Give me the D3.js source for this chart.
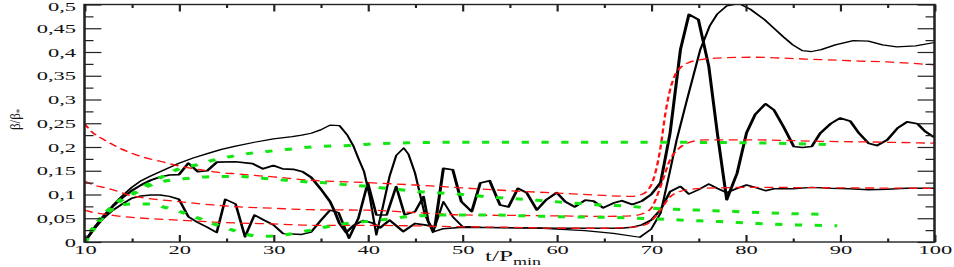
<!DOCTYPE html>
<meta charset="utf-8">
<script src="https://cdn.jsdelivr.net/npm/d3@7"></script>
<style>
  body { margin: 0; background: #fff; }
  svg { display: block; }
  .tick text { font-family: "Liberation Serif", "Times New Roman", serif; font-size: 12.5px; fill: #111; }
  .tick line { stroke: #222; }
  .domain { display: none; }
</style>
<body>
<svg id="chart"></svg>
<script>
// data: [t/Pmin, beta/beta*]
var black1 = [[10,0],[11,0.03],[12,0.055],[13,0.077],[14,0.097],[15,0.115],[16,0.129],[17,0.139],[18,0.148],[19,0.157],[20,0.166],[21.5,0.177],[23,0.186],[24.5,0.195],[26,0.202],[28,0.21],[30,0.217],[32,0.222],[33,0.225],[34,0.229],[35,0.236],[36,0.246],[37,0.245],[37.8,0.226],[38.5,0.201],[39,0.176],[39.6,0.148],[40.2,0.096],[40.9,0.015],[41.6,0.075],[42.3,0.138],[43,0.182],[43.8,0.198],[44.3,0.185],[45,0.145],[46,0.06],[46.9,0.02],[48,0.085],[49,0.053],[50,0.033],[52,0.031],[55,0.03],[58,0.029],[60,0.027],[63,0.024],[66,0.018],[68.8,0.01],[70,0.027],[71,0.061],[72,0.15],[72.7,0.215],[73.8,0.3],[75.2,0.405],[76.2,0.455],[77,0.48],[78,0.497],[79.3,0.502],[80.5,0.49],[82,0.468],[83,0.45],[84,0.432],[85,0.415],[86,0.403],[87,0.401],[88,0.405],[89.5,0.415],[91.4,0.424],[93,0.423],[94.5,0.415],[96,0.411],[98,0.413],[100,0.42]];

var black2 = [[10,0],[11,0.028],[12,0.053],[13,0.075],[14,0.093],[15,0.108],[16,0.12],[17,0.13],[18,0.137],[19,0.141],[20,0.142],[21,0.166],[22,0.148],[23,0.15],[24,0.168],[26,0.169],[27.8,0.165],[28.9,0.154],[30,0.161],[31,0.154],[32.1,0.153],[33.1,0.148],[34,0.136],[35,0.112],[36,0.085],[36.5,0.064],[37,0.039],[37.7,0.02],[38.5,0.035],[39.5,0.045],[40.5,0.04],[41.3,0.03],[42.3,0.046],[43.75,0.022],[45,0.039],[46,0.036],[47.1,0.032],[48,0.155],[49,0.152],[49.9,0.085],[51,0.064],[51.9,0.124],[52.9,0.129],[54,0.078],[54.9,0.074],[55.9,0.113],[56.8,0.104],[57.9,0.0675],[58.9,0.089],[60,0.104],[60.9,0.085],[61.9,0.074],[63,0.088],[63.9,0.086],[64.9,0.072],[66,0.082],[66.9,0.087],[68,0.079],[69,0.086],[70,0.1],[71,0.125],[72,0.229],[73.1,0.405],[74,0.479],[75,0.468],[76.1,0.37],[77,0.23],[78,0.089],[79.1,0.145],[80.1,0.23],[81,0.268],[82.1,0.291],[83,0.278],[84,0.243],[85.1,0.201],[86,0.199],[87,0.201],[87.9,0.229],[89,0.249],[90,0.261],[91.1,0.254],[92,0.229],[93,0.208],[93.9,0.203],[95,0.215],[96.1,0.24],[97.1,0.253],[98.2,0.249],[99,0.233],[100,0.22]];

var black3 = [[10,0],[11,0.027],[12,0.05],[13,0.067],[14,0.08],[15,0.092],[16,0.097],[17,0.099],[18,0.099],[19,0.096],[20,0.09],[21,0.053],[22,0.041],[22.9,0.032],[24,0.02],[24.9,0.09],[26,0.08],[27,0.011],[28,0.057],[29,0.046],[30,0.036],[31,0.018],[32,0.017],[33,0.016],[34,0.021],[35,0.045],[36,0.067],[36.9,0.062],[38,0.008],[39,0.05],[40,0.125],[40.9,0.057],[42,0.057],[43,0.117],[43.9,0.057],[45,0.064],[45.9,0.096],[46.4,0.043],[47,0.022],[48,0.028],[50,0.031],[55,0.03],[60,0.029],[65,0.029],[66.7,0.029],[68,0.031],[69,0.036],[70,0.046],[71,0.068],[72,0.106],[73.1,0.117],[74,0.101],[75,0.11],[76.1,0.122],[77,0.113],[78,0.104],[79.1,0.113],[80.1,0.12],[81,0.115],[82.1,0.108],[83,0.112],[85,0.112],[87,0.115],[89,0.113],[91,0.112],[93,0.11],[95,0.111],[97,0.113],[100,0.113]];

var red1 = [[10,0.249],[11,0.228],[12,0.216],[13,0.205],[14,0.195],[15,0.187],[16.5,0.177],[18,0.17],[20,0.16],[22,0.153],[24,0.147],[26.4,0.143],[30,0.137],[34,0.13],[40,0.125],[45,0.12],[50,0.114],[55,0.108],[60,0.103],[65,0.098],[67.8,0.096],[69,0.1],[70,0.12],[70.5,0.15],[71,0.2],[71.5,0.27],[72,0.32],[72.5,0.35],[73,0.365],[74,0.378],[75.6,0.385],[78,0.388],[80.8,0.389],[84,0.387],[87.9,0.384],[92,0.381],[95,0.379],[100,0.373]];

var red2 = [[10,0.128],[11,0.12],[12,0.115],[13,0.11],[14.5,0.1],[16.5,0.092],[18,0.089],[20,0.085],[23.6,0.078],[26.4,0.074],[30,0.071],[34,0.068],[40,0.067],[45,0.062],[50,0.057],[55,0.056],[60,0.055],[65,0.054],[67.8,0.055],[69,0.059],[70,0.071],[71,0.117],[72,0.173],[73,0.198],[73.8,0.208],[75.6,0.215],[80.8,0.215],[87.9,0.212],[95,0.21],[100,0.208]];

var red3 = [[10,0.067],[11,0.062],[12,0.059],[13,0.056],[15,0.052],[17,0.049],[20,0.046],[23.6,0.042],[26.4,0.04],[30,0.038],[35,0.035],[40,0.035],[45,0.034],[50,0.032],[55,0.031],[60,0.029],[65,0.029],[67.8,0.031],[69,0.034],[70,0.044],[71,0.068],[72,0.095],[73,0.106],[73.8,0.11],[75.6,0.113],[80.8,0.115],[90,0.114],[100,0.113]];

var green1 = [[10,0],[11,0.03],[12,0.055],[13,0.075],[14,0.09],[15,0.1],[16,0.113],[17,0.125],[18,0.135],[19,0.145],[20,0.154],[22,0.163],[24,0.174],[26,0.182],[28,0.188],[30,0.192],[32,0.196],[34,0.2],[36,0.202],[38,0.203],[40,0.206],[45,0.209],[50,0.21],[60,0.21],[70,0.21],[80,0.209],[89,0.205]];

var green2 = [[10,0],[11,0.03],[12,0.055],[13,0.075],[14,0.09],[15,0.1],[16,0.11],[17,0.12],[18,0.126],[19,0.13],[20,0.132],[22,0.136],[24,0.138],[26,0.138],[28,0.136],[30,0.132],[32,0.129],[34,0.126],[36,0.124],[38,0.12],[40,0.117],[42,0.113],[45.5,0.106],[49.4,0.101],[53.3,0.094],[57.2,0.089],[61.1,0.083],[64.6,0.078],[67.8,0.075],[70.2,0.071],[72.5,0.069],[76.6,0.066],[80.5,0.063],[84.4,0.06],[89,0.058]];

var green3 = [[10,0],[11,0.03],[12,0.055],[13,0.07],[14,0.078],[15,0.08],[17,0.08],[18.5,0.073],[20,0.065],[21.3,0.055],[22.7,0.046],[24,0.036],[25.4,0.027],[26.8,0.018],[28.5,0.012],[30.3,0.013],[32.1,0.018],[33.7,0.024],[35.4,0.031],[37,0.037],[38.8,0.041],[40.6,0.045],[42.5,0.049],[44.1,0.053],[48.3,0.057],[52.6,0.057],[56.8,0.055],[61,0.053],[65.3,0.052],[69.9,0.049],[73.4,0.046],[77.3,0.043],[81.2,0.039],[85.4,0.036],[89.7,0.034]];

var xMajor = [10, 20, 30, 40, 50, 60, 70, 80, 90, 100];
var xMinor = [15, 25, 35, 45, 55, 65, 75, 85, 95];
var xTickLabels = ["10", "20", "30", "40", "50", "60", "70", "80", "90", "100"];
var yMajor = [0, 0.05, 0.1, 0.15, 0.2, 0.25, 0.3, 0.35, 0.4, 0.45, 0.5];
var yMinor = [0.025, 0.075, 0.125, 0.175, 0.225, 0.275, 0.325, 0.375, 0.425, 0.475];
var yTickLabels = ["0", "0,05", "0,1", "0,15", "0,2", "0,25", "0,3", "0,35", "0,4", "0,45", "0,5"];

// the original picture is stretched sideways, so draw narrow and let the viewBox widen it
var W = 954, H = 267, SX = 1.8;
var svg = d3.select("#chart")
    .attr("width", W).attr("height", H)
    .attr("viewBox", "0 0 " + (W / SX) + " " + H)
    .attr("preserveAspectRatio", "none");

var x = d3.scaleLinear().domain([10, 100]).range([84.5 / SX, 934.5 / SX]);
var y = d3.scaleLinear().domain([0, 0.5]).range([242, 4.5]);

svg.append("clipPath").attr("id", "plotclip")
    .append("rect")
    .attr("x", x(10)).attr("y", y(0.5))
    .attr("width", x(100) - x(10)).attr("height", y(0) - y(0.5));

var line = d3.line().x(function(d) { return x(d[0]); }).y(function(d) { return y(d[1]); });
var smooth = d3.line().curve(d3.curveMonotoneX).x(function(d) { return x(d[0]); }).y(function(d) { return y(d[1]); });

var plot = svg.append("g").attr("clip-path", "url(#plotclip)");

// black solid curves
[[black1, 1.25], [black2, 1.7], [black3, 1.5]].forEach(function(s) {
    plot.append("path").datum(s[0])
        .attr("d", line)
        .attr("fill", "none")
        .attr("stroke", "#000")
        .attr("stroke-width", s[1])
        .attr("stroke-linejoin", "round");
});

// red dashed curves
[red1, red2, red3].forEach(function(s) {
    plot.append("path").datum(s)
        .attr("d", smooth)
        .attr("fill", "none")
        .attr("stroke", "#ff1010")
        .attr("stroke-width", 1.3)
        .attr("stroke-dasharray", "5,3");
});

// green dotted curves
[green1, green2, green3].forEach(function(s) {
    plot.append("path").datum(s)
        .attr("d", smooth)
        .attr("fill", "none")
        .attr("stroke", "#14e614")
        .attr("stroke-width", 3)
        .attr("stroke-dasharray", "4,7");
});

// frame
svg.append("rect")
    .attr("x", x(10)).attr("y", y(0.5))
    .attr("width", x(100) - x(10)).attr("height", y(0) - y(0.5))
    .attr("fill", "none").attr("stroke", "#222").attr("stroke-width", 1.4);

// axes, ticks point inwards
var fmtX = function(d) { return xTickLabels[xMajor.indexOf(d)]; };
var fmtY = function(d) { return yTickLabels[yMajor.indexOf(d)]; };

svg.append("g").attr("transform", "translate(0," + y(0) + ")")
    .call(d3.axisBottom(x).tickValues(xMajor).tickSize(-7).tickPadding(3).tickFormat(fmtX));
svg.append("g").attr("transform", "translate(0," + y(0) + ")")
    .call(d3.axisBottom(x).tickValues(xMinor).tickSize(-3.5).tickFormat(""));
svg.append("g").attr("transform", "translate(0," + y(0.5) + ")")
    .call(d3.axisTop(x).tickValues(xMajor).tickSize(-7).tickFormat(""));
svg.append("g").attr("transform", "translate(0," + y(0.5) + ")")
    .call(d3.axisTop(x).tickValues(xMinor).tickSize(-3.5).tickFormat(""));

var yAxisG = svg.append("g").attr("transform", "translate(" + x(10) + ",0)")
    .call(d3.axisLeft(y).tickValues(yMajor).tickSize(-9.4).tickPadding(4.7).tickFormat(fmtY));
// keep the top label inside the page
yAxisG.selectAll(".tick text").filter(function(d) { return d === 0.5; }).attr("dy", "0.45em");
svg.append("g").attr("transform", "translate(" + x(10) + ",0)")
    .call(d3.axisLeft(y).tickValues(yMinor).tickSize(-5).tickFormat(""));
svg.append("g").attr("transform", "translate(" + x(100) + ",0)")
    .call(d3.axisRight(y).tickValues(yMajor).tickSize(-9.4).tickFormat(""));
svg.append("g").attr("transform", "translate(" + x(100) + ",0)")
    .call(d3.axisRight(y).tickValues(yMinor).tickSize(-5).tickFormat(""));

svg.selectAll(".tick line").attr("stroke", "#222").attr("stroke-width", 1.2);

// axis titles
var xt = svg.append("text")
    .attr("x", 485 / SX).attr("y", 261)
    .attr("font-family", "Liberation Serif, Times New Roman, serif")
    .attr("font-size", 14).attr("fill", "#111");
xt.append("tspan").text("t/P");
xt.append("tspan").attr("font-size", 10).attr("dy", 4).text("min");

var yt = svg.append("text")
    .attr("transform", "translate(" + (20 / SX) + ",130) rotate(-90) scale(1,0.6)")
    .attr("font-family", "Liberation Serif, Times New Roman, serif")
    .attr("font-size", 13).attr("fill", "#111");
yt.append("tspan").text("β/β");
yt.append("tspan").attr("font-size", 9).attr("dy", 3).text("*");
</script>
</body>
